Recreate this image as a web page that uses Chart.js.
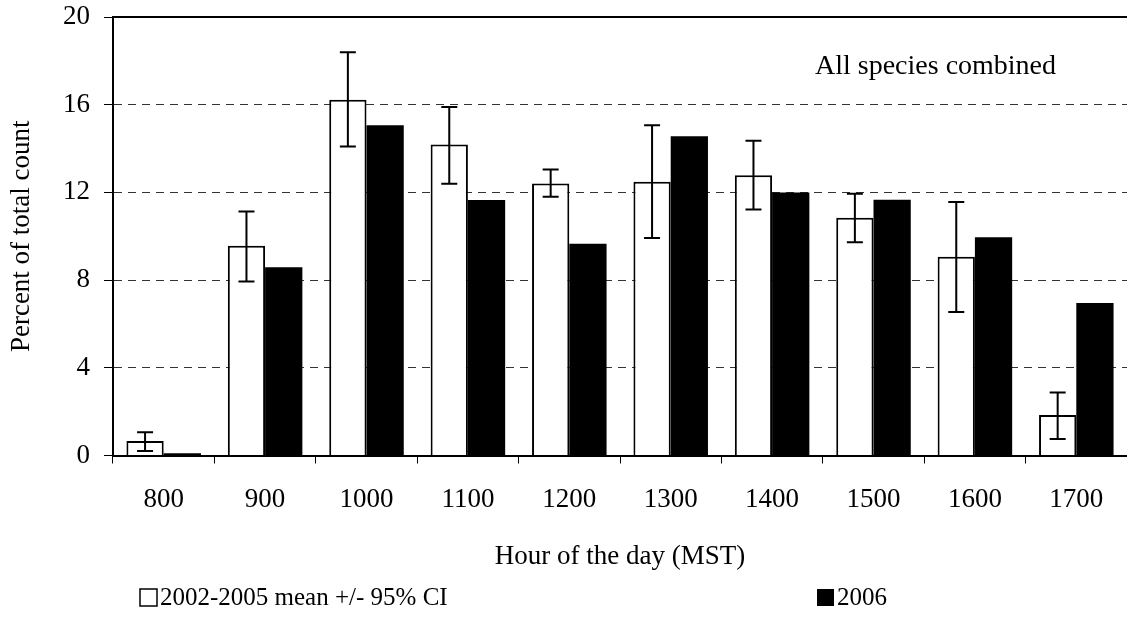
<!DOCTYPE html>
<html>
<head>
<meta charset="utf-8">
<script src="https://cdn.jsdelivr.net/npm/chart.js@4"></script>
<style>
    html, body { margin: 0; padding: 0; background: #fff; overflow: hidden; }
    canvas { display: block; }
</style>
</head>
<body>
<canvas id="hourChart" width="1127" height="644"></canvas>
<script>
// Data
const hours = ['800', '900', '1000', '1100', '1200', '1300', '1400', '1500', '1600', '1700'];
const mean0205 = [0.66, 9.57, 16.23, 14.18, 12.41, 12.49, 12.78, 10.84, 9.06, 1.85];
const ciLow = [0.20, 7.94, 14.09, 12.40, 11.80, 9.92, 11.22, 9.73, 6.54, 0.75];
const ciHigh = [1.06, 11.13, 18.39, 15.90, 13.04, 15.06, 14.36, 11.94, 11.56, 2.87];
const year2006 = [0.10, 8.59, 15.06, 11.65, 9.66, 14.56, 11.99, 11.67, 9.95, 6.95];
const yTicks = [0, 4, 8, 12, 16, 20];

const FONT = "'Liberation Serif', 'Times New Roman', serif";

/**
 * Error bars, top frame, inset label and the legend row
 */
const extrasPlugin = {
    id: 'extras',
    afterDatasetsDraw(chart) {
        const ctx = chart.ctx;
        const y = chart.scales.y;
        const meta = chart.getDatasetMeta(0);
        ctx.save();
        ctx.strokeStyle = '#000';
        ctx.lineWidth = 2;
        meta.data.forEach((bar, i) => {
            const yLo = y.getPixelForValue(ciLow[i]);
            const yHi = y.getPixelForValue(ciHigh[i]);
            ctx.beginPath();
            ctx.moveTo(bar.x, yLo);
            ctx.lineTo(bar.x, yHi);
            ctx.moveTo(bar.x - 8, yLo);
            ctx.lineTo(bar.x + 8, yLo);
            ctx.moveTo(bar.x - 8, yHi);
            ctx.lineTo(bar.x + 8, yHi);
            ctx.stroke();
        });
        ctx.restore();
    },
    afterDraw(chart) {
        const ctx = chart.ctx;
        const area = chart.chartArea;
        ctx.save();
        // top frame line
        ctx.strokeStyle = '#000';
        ctx.lineWidth = 2;
        ctx.beginPath();
        ctx.moveTo(area.left, area.top);
        ctx.lineTo(chart.width, area.top);
        ctx.stroke();

        // inset label
        ctx.fillStyle = '#000';
        ctx.font = '28px ' + FONT;
        ctx.textAlign = 'left';
        ctx.textBaseline = 'alphabetic';
        ctx.fillText('All species combined', 815, 74);

        // legend
        ctx.font = '25px ' + FONT;
        ctx.textBaseline = 'middle';
        ctx.lineWidth = 1.5;
        ctx.fillStyle = '#fff';
        ctx.fillRect(140, 589, 17, 17);
        ctx.strokeRect(140, 589, 17, 17);
        ctx.fillStyle = '#000';
        ctx.fillText('2002-2005 mean +/- 95% CI', 160, 598);
        ctx.fillRect(817, 589, 17, 17);
        ctx.fillText('2006', 837, 598);
        ctx.restore();
    }
};

const ctx = document.getElementById('hourChart').getContext('2d');

new Chart(ctx, {
    type: 'bar',
    data: {
        labels: hours,
        datasets: [{
            label: '2002-2005 mean +/- 95% CI',
            data: mean0205,
            backgroundColor: '#fff',
            borderColor: '#000',
            borderWidth: 2,
            categoryPercentage: 0.735,
            barPercentage: 1
        }, {
            label: '2006',
            data: year2006,
            backgroundColor: '#000',
            borderColor: '#000',
            borderWidth: 0,
            categoryPercentage: 0.735,
            barPercentage: 1
        }]
    },
    options: {
        responsive: false,
        animation: false,
        layout: {
            padding: { top: 17, right: 0, bottom: 60, left: 0 }
        },
        plugins: {
            legend: { display: false },
            tooltip: { enabled: false }
        },
        scales: {
            x: {
                grid: {
                    offset: true,
                    drawOnChartArea: false,
                    drawTicks: true,
                    tickLength: 8,
                    tickColor: '#000',
                    tickWidth: 1
                },
                border: { display: true, color: '#000', width: 2 },
                ticks: {
                    color: '#000',
                    font: { family: FONT, size: 27 },
                    padding: 20,
                    maxRotation: 0
                },
                title: {
                    display: true,
                    text: 'Hour of the day (MST)',
                    color: '#000',
                    font: { family: FONT, size: 27 },
                    padding: { top: 0, bottom: 11 }
                },
                afterFit(scale) {
                    scale.height = 128.5;
                    scale.paddingLeft = 0;
                    scale.paddingRight = 0;
                }
            },
            y: {
                min: 0,
                max: 20,
                afterBuildTicks(scale) {
                    scale.ticks = yTicks.map(v => ({ value: v }));
                },
                grid: {
                    color: c => (c.tick && (c.tick.value === 0 || c.tick.value === 20)) ? 'rgba(0,0,0,0)' : '#333',
                    lineWidth: 1,
                    drawTicks: true,
                    tickLength: 9,
                    tickColor: '#000',
                    tickBorderDash: [],
                    tickWidth: 1
                },
                border: { display: true, color: '#000', width: 2, dash: [8, 6] },
                ticks: {
                    color: '#000',
                    font: { family: FONT, size: 27 },
                    padding: 14
                },
                title: {
                    display: true,
                    text: 'Percent of total count',
                    color: '#000',
                    font: { family: FONT, size: 27 },
                    padding: { top: 6, bottom: 0 }
                },
                afterFit(scale) {
                    scale.width = 113;
                    scale.paddingTop = 0;
                    scale.paddingBottom = 0;
                }
            }
        }
    },
    plugins: [extrasPlugin]
});
</script>
</body>
</html>
